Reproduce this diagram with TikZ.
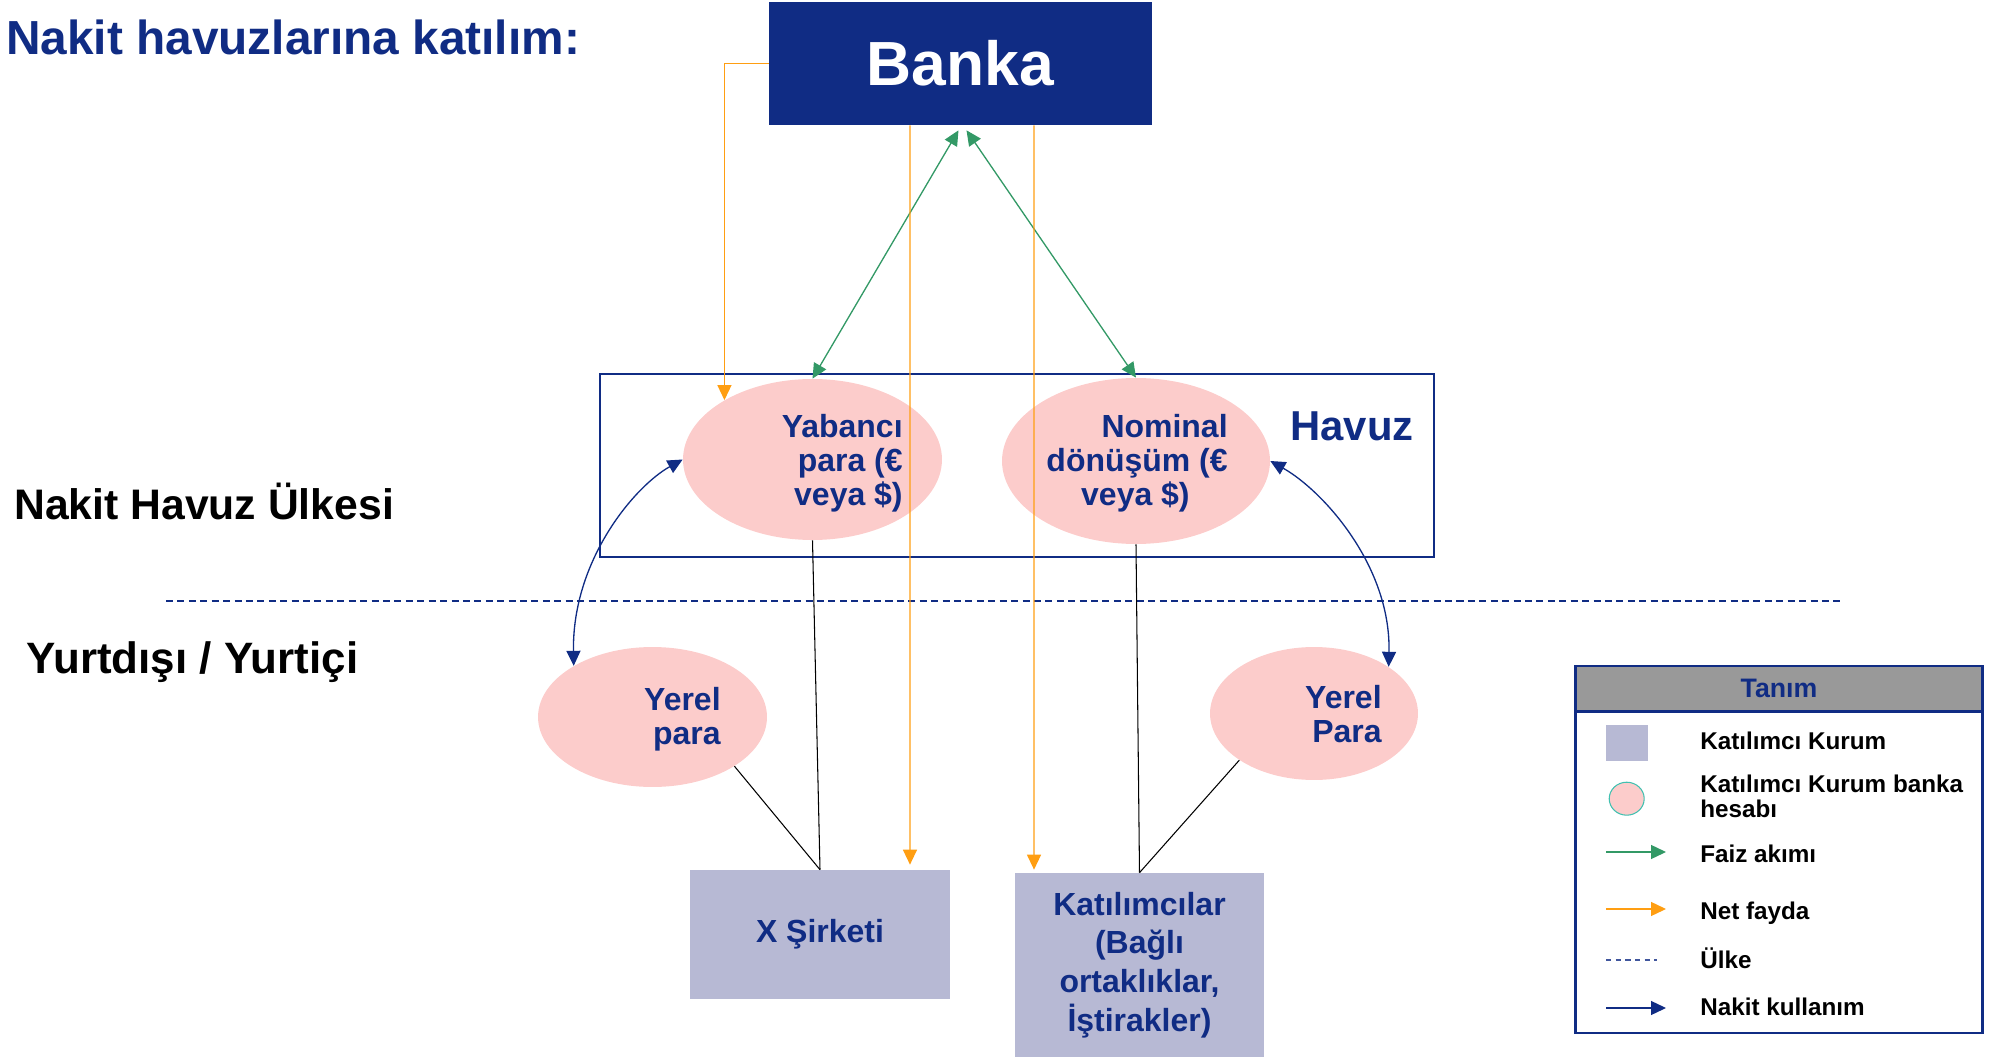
\documentclass[tikz,border=0pt]{standalone}
\usepackage{fontspec}
\setmainfont{Liberation Sans}
\usetikzlibrary{arrows.meta,shapes.geometric,positioning}
\definecolor{navy}{RGB}{16,44,132}
\definecolor{acctpink}{RGB}{252,204,203}
\definecolor{entlav}{RGB}{183,185,212}
\definecolor{netorange}{RGB}{255,158,18}
\definecolor{faizgreen}{RGB}{51,153,102}
\definecolor{hdrgray}{RGB}{153,153,153}
\definecolor{ringteal}{RGB}{64,192,176}
\newcommand{\fsz}[2]{\fontsize{#1}{#2}\selectfont}

\begin{document}
\begin{tikzpicture}[x=0.02cm,y=-0.02cm,font=\bfseries,
  >={Triangle[length=0.3cm,width=0.28cm]},
  acct/.style={ellipse,fill=acctpink,inner sep=0pt},
  acctxt/.style={text=navy,align=right,inner sep=0pt,anchor=east,font=\bfseries\fsz{18.2}{19.4}},
  ent/.style={rectangle,fill=entlav,inner sep=0pt,text=navy,align=center,font=\bfseries\fsz{18.2}{22}},
  sidelbl/.style={anchor=base west,inner sep=0pt,font=\bfseries\fsz{24.3}{28}},
  lgd/.style={anchor=base west,inner sep=0pt,align=left,font=\bfseries\fsz{13.8}{13.8}},
  faiz/.style={faizgreen,line width=0.75pt,<->},
  net/.style={netorange,line width=0.75pt,->},
  nakit/.style={navy,line width=0.75pt,<->},
  link/.style={black,line width=0.6pt}]
\useasboundingbox (0,0) rectangle (1992,1057);

% headings
\node[anchor=base west,inner sep=0pt,text=navy,font=\bfseries\fsz{27.2}{32}] (title) at (6,55) {Nakit havuzlarına katılım:};
\node[sidelbl] (pool) at (14,520) {Nakit Havuz Ülkesi};
\node[sidelbl,font=\bfseries\fsz{25}{28}] (abroad) at (26,673) {Yurtdışı / Yurtiçi};

% bank and pool
\node[fill=navy,text=white,minimum width=7.66cm,minimum height=2.46cm,inner sep=0pt,font=\bfseries\fsz{35.5}{40}] (banka) at (960.5,63.5) {Banka};
\node[draw=navy,line width=0.75pt,minimum width=16.68cm,minimum height=3.66cm,inner sep=0pt] (havuz) at (1017,465.5) {};
\node[text=navy,inner sep=0pt,font=\bfseries\fsz{23.8}{28}] (havuzlbl) at (1352,426) {Havuz};

% accounts
\node[acct,minimum width=5.18cm,minimum height=3.22cm] (yab) at (812.5,459.5) {};
\node[acctxt] (yabt) at (903,463) {Yabancı\\para (€\\veya \$)};
\node[acct,minimum width=5.36cm,minimum height=3.32cm] (nom) at (1136,461) {};
\node[acctxt] (nomt) at (1228,463) {Nominal\\dönüşüm (€\\veya \$)\hspace*{0.76cm}};
\node[acct,minimum width=4.58cm,minimum height=2.80cm] (yerl) at (652.5,717) {};
\node[acctxt] (yerlt) at (721,719) {Yerel\\para};
\node[acct,minimum width=4.16cm,minimum height=2.66cm] (yerr) at (1314,713.5) {};
\node[acctxt] (yerrt) at (1382,714) {Yerel\\Para};

% participants
\node[ent,minimum width=5.2cm,minimum height=2.58cm] (xs) at (820,934.5) {X Şirketi};
\node[ent,minimum width=4.98cm,minimum height=3.68cm] (kat) at (1139.5,965) {Katılımcılar\\(Bağlı\\ortaklıklar,\\İştirakler)};

% country border
\coordinate (bl) at (166,601);
\coordinate (br) at (1842,601);
\draw[navy,line width=0.85pt,dash pattern=on 4pt off 2.5pt] (bl) -- (br);

% flows
\draw[faiz] ([xshift=-0.04cm,yshift=-0.1cm]banka.south) -- (yab.north);
\draw[faiz] ([xshift=0.12cm,yshift=-0.1cm]banka.south) -- (nom.north);
\draw[net] (banka.west) -| (yab.146.7);
\draw[net] ([xshift=-1.01cm]banka.south) -- ([xshift=1.8cm,yshift=0.1cm]xs.north);
\draw[net] ([xshift=1.47cm]banka.south) -- ([xshift=-2.11cm,yshift=0.06cm]kat.north);
\draw[nakit] (yab.west) .. controls (635,486) and (572,560) .. (yerl.147.5);
\draw[nakit] (nom.east) .. controls (1322,490) and (1391,565) .. (yerr.32);
\draw[link] (yab.south) -- (xs.north);
\draw[link] (yerl.-31.7) -- (xs.north);
\draw[link] (nom.south) -- (kat.north);
\draw[link] (yerr.212.1) -- (kat.north);

% legend
\node[fill=hdrgray,draw=navy,line width=1.4pt,minimum width=8.14cm,minimum height=0.914cm,inner sep=0pt,text=navy,font=\bfseries\fsz{15.2}{18}] (lgdhead) at (1779,688.8) {Tanım};
\node[draw=navy,line width=1.4pt,minimum width=8.14cm,minimum height=7.34cm,inner sep=0pt] (lgdbox) at (1779,849.5) {};
\node[fill=entlav,minimum width=0.84cm,minimum height=0.72cm,inner sep=0pt] (keyent) at (1627,743) {};
\node[lgd] (keyentt) at (1700,749) {Katılımcı Kurum};
\node[acct,draw=ringteal,line width=0.6pt,minimum width=0.7cm,minimum height=0.66cm] (keyacct) at (1626.7,798.7) {};
\node[lgd] (keyacctt) at (1700,817) {Katılımcı Kurum banka\\hesabı};
\coordinate (f0) at (1606,852);  \coordinate (f1) at (1666,852);
\coordinate (n0) at (1606,909);  \coordinate (n1) at (1666,909);
\coordinate (u0) at (1606,960);  \coordinate (u1) at (1657,960);
\coordinate (k0) at (1606,1008); \coordinate (k1) at (1666,1008);
\draw[faizgreen,line width=0.75pt,->] (f0) -- (f1);
\draw[netorange,line width=0.75pt,->] (n0) -- (n1);
\draw[navy!80,line width=0.6pt,dash pattern=on 3pt off 2.5pt] (u0) -- (u1);
\draw[navy,line width=0.75pt,->] (k0) -- (k1);
\node[lgd] (keyfaiz) at (1700,862) {Faiz akımı};
\node[lgd] (keynet) at (1700,919) {Net fayda};
\node[lgd] (keyulke) at (1700,968) {Ülke};
\node[lgd] (keynakit) at (1700,1015.7) {Nakit kullanım};
\end{tikzpicture}
\end{document}
